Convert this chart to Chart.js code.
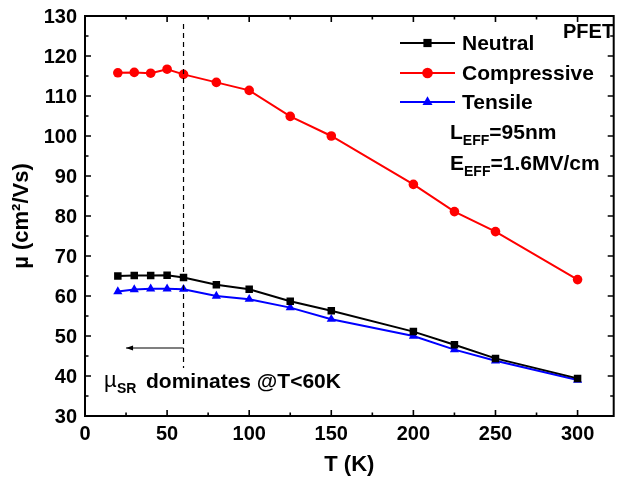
<!DOCTYPE html>
<html>
<head>
<meta charset="utf-8">
<script src="https://cdn.jsdelivr.net/npm/chart.js@4.4.0/dist/chart.umd.min.js"></script>
<style>
  html, body { margin: 0; padding: 0; background: #fff; }
  #wrap { width: 619px; height: 481px; }
</style>
</head>
<body>
<div id="wrap"><canvas id="mob" width="619" height="481"></canvas></div>
<script>
const FONT = '"Liberation Sans", Arial, sans-serif';

// temperature (K)
const temps = [20, 30, 40, 50, 60, 80, 100, 125, 150, 200, 225, 250, 300];
// mobility (cm2/Vs)
const neutral     = [65.0, 65.1, 65.1, 65.2, 64.6, 62.8, 61.7, 58.7, 56.3, 51.1, 47.8, 44.4, 39.4];
const compressive = [115.8, 115.9, 115.7, 116.7, 115.4, 113.4, 111.4, 104.9, 100.0, 87.9, 81.1, 76.1, 64.1];
const tensile     = [61.1, 61.6, 61.8, 61.8, 61.7, 60.0, 59.2, 57.1, 54.2, 50.0, 46.6, 43.8, 39.0];

const xTicks = [0, 50, 100, 150, 200, 250, 300];
const yTicks = [30, 40, 50, 60, 70, 80, 90, 100, 110, 120, 130];

// surface roughness marker: dashed line at 60 K, arrow pointing to low T
const srT = 60, srLineTop = 128, srLineBottom = 42, srArrowY = 47, srArrowTo = 25;

const pts = arr => temps.map((t, i) => ({x: t, y: arr[i]}));

const series = [
  {label: 'Neutral', data: pts(neutral), color: '#000000', style: 'rect', r: 5.3},
  {label: 'Compressive', data: pts(compressive), color: '#ff0000', style: 'circle', r: 4.8},
  {label: 'Tensile', data: pts(tensile), color: '#0000ff', style: 'triangle', r: 5.3}
];

// inward ticks, tick labels, frame, legend and annotations, Origin style
const decorPlugin = {
  id: 'decor',
  afterDraw(chart) {
    const ctx = chart.ctx, a = chart.chartArea;
    const xs = chart.scales.x, ys = chart.scales.y;
    ctx.save();
    ctx.strokeStyle = '#000';
    ctx.lineWidth = 1.6;
    // x ticks (bottom and top)
    for (let v = 0; v <= 300; v += 25) {
      const px = xs.getPixelForValue(v);
      const len = v % 50 === 0 ? 6 : 3.5;
      ctx.beginPath();
      ctx.moveTo(px, a.bottom); ctx.lineTo(px, a.bottom - len);
      ctx.moveTo(px, a.top); ctx.lineTo(px, a.top + len);
      ctx.stroke();
    }
    // y ticks (left and right)
    for (let v = 30; v <= 130; v += 5) {
      const py = ys.getPixelForValue(v);
      const len = v % 10 === 0 ? 6 : 3.5;
      ctx.beginPath();
      ctx.moveTo(a.left, py); ctx.lineTo(a.left + len, py);
      ctx.moveTo(a.right, py); ctx.lineTo(a.right - len, py);
      ctx.stroke();
    }
    // frame
    ctx.lineWidth = 2;
    ctx.strokeRect(a.left, a.top, a.right - a.left, a.bottom - a.top);

    // tick labels
    ctx.fillStyle = '#000';
    ctx.font = 'bold 20px ' + FONT;
    ctx.textBaseline = 'middle';
    ctx.textAlign = 'center';
    xTicks.forEach(v => ctx.fillText(String(v), xs.getPixelForValue(v), a.bottom + 18));
    ctx.textAlign = 'right';
    yTicks.forEach(v => ctx.fillText(String(v), a.left - 8, ys.getPixelForValue(v) + 1));

    // dashed line at 60 K
    const sx = xs.getPixelForValue(srT);
    ctx.lineWidth = 1.2;
    ctx.setLineDash([5, 4]);
    ctx.beginPath();
    ctx.moveTo(sx, ys.getPixelForValue(srLineTop));
    ctx.lineTo(sx, ys.getPixelForValue(srLineBottom));
    ctx.stroke();
    ctx.setLineDash([]);
    // arrow
    const ay = ys.getPixelForValue(srArrowY);
    const ax = xs.getPixelForValue(srArrowTo);
    ctx.beginPath();
    ctx.moveTo(sx, ay); ctx.lineTo(ax, ay);
    ctx.stroke();
    ctx.beginPath();
    ctx.moveTo(ax, ay); ctx.lineTo(ax + 7, ay - 2.5); ctx.lineTo(ax + 7, ay + 2.5); ctx.closePath();
    ctx.fill();

    // text helpers
    ctx.textAlign = 'left';
    const sub = (x, y, main, subTxt, rest) => {
      ctx.font = 'bold 21px ' + FONT;
      ctx.fillText(main, x, y);
      let w = ctx.measureText(main).width;
      ctx.font = 'bold 14px ' + FONT;
      ctx.fillText(subTxt, x + w, y + 8);
      w += ctx.measureText(subTxt).width;
      ctx.font = 'bold 21px ' + FONT;
      ctx.fillText(rest, x + w, y);
    };

    // legend
    const legY = [43, 73, 102];
    series.forEach((s, i) => {
      const y = legY[i];
      ctx.strokeStyle = s.color;
      ctx.lineWidth = 2;
      ctx.beginPath(); ctx.moveTo(400, y); ctx.lineTo(455, y); ctx.stroke();
      ctx.fillStyle = s.color;
      Chart.helpers.drawPoint(ctx, {pointStyle: s.style, radius: s.r + 0.5, borderWidth: 0}, 427.5, y);
      ctx.fillStyle = '#000';
      ctx.font = 'bold 21px ' + FONT;
      ctx.fillText(s.label, 462, y + 1);
    });

    ctx.font = 'bold 20px ' + FONT;
    ctx.fillText('PFET', 563, 32);

    sub(450, 133, 'L', 'EFF', '=95nm');
    sub(450, 164, 'E', 'EFF', '=1.6MV/cm');

    // mu_SR dominates
    ctx.font = '22px ' + FONT;
    ctx.fillText('\u00b5', 104, 381);
    ctx.font = 'bold 14px ' + FONT;
    ctx.fillText('SR', 117, 389);
    ctx.font = 'bold 21px ' + FONT;
    ctx.fillText('dominates @T<60K', 146, 382);
    ctx.restore();
  }
};

const chart = new Chart(document.getElementById('mob'), {
  type: 'line',
  data: {
    datasets: series.map(s => ({
      label: s.label,
      data: s.data,
      borderColor: s.color,
      backgroundColor: s.color,
      borderWidth: 2,
      pointStyle: s.style,
      pointRadius: s.r,
      pointBorderWidth: 0,
      tension: 0
    }))
  },
  options: {
    responsive: false, animation: false,
    layout: { padding: { top: 16, right: 2, left: 0, bottom: 0 } },
    plugins: { legend: { display: false }, tooltip: { enabled: false } },
    scales: {
      x: {
        type: 'linear', min: 0, max: 322,
        afterFit: sc => { sc.height = 65; },
        grid: { display: false, drawTicks: false },
        border: { display: false },
        ticks: { display: false },
        title: { display: true, text: 'T (K)', color: '#000', padding: { top: 4, bottom: 3 },
                 font: { family: FONT, size: 22, weight: 'bold' } }
      },
      y: {
        min: 30, max: 130,
        afterFit: sc => { sc.width = 85; },
        grid: { display: false, drawTicks: false },
        border: { display: false },
        ticks: { display: false },
        title: { display: true, text: '\u00b5 (cm\u00b2/Vs)', color: '#000', padding: { top: 9, bottom: 2 },
                 font: { family: FONT, size: 22, weight: 'bold' } }
      }
    }
  },
  plugins: [decorPlugin]
});
</script>
</body>
</html>
